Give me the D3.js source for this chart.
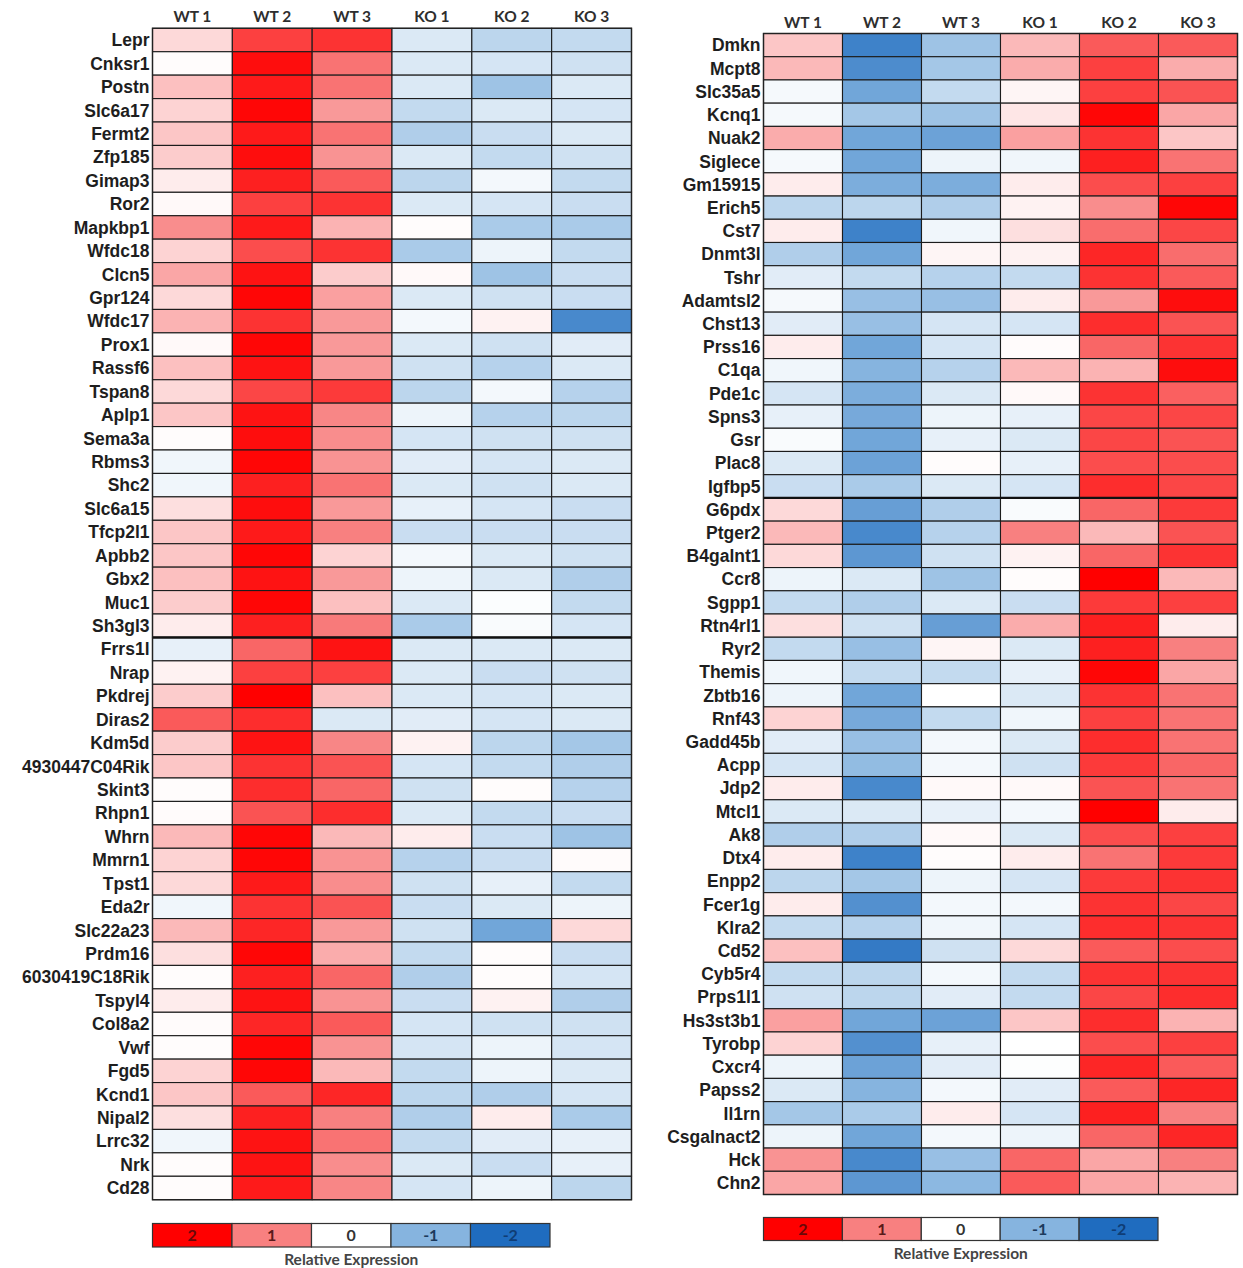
<!DOCTYPE html>
<html>
<head>
<meta charset="utf-8">
<script src="https://cdn.jsdelivr.net/npm/d3@7"></script>
<style>
  html, body { margin: 0; padding: 0; background: #fff; }
  svg { display: block; }
</style>
</head>
<body>
<svg id="chart" width="1243" height="1268"></svg>
<script>
// Sample columns shared by both heatmaps
const samples = ["WT 1", "WT 2", "WT 3", "KO 1", "KO 2", "KO 3"];

// Legend ticks
const legendTicks = [2, 1, 0, -1, -2];
const legendTitle = "Relative Expression";

// Left heatmap: genes up in WT
const leftGenes = ["Lepr","Cnksr1","Postn","Slc6a17","Fermt2","Zfp185","Gimap3","Ror2","Mapkbp1","Wfdc18",
  "Clcn5","Gpr124","Wfdc17","Prox1","Rassf6","Tspan8","Aplp1","Sema3a","Rbms3","Shc2",
  "Slc6a15","Tfcp2l1","Apbb2","Gbx2","Muc1","Sh3gl3",
  "Frrs1l","Nrap","Pkdrej","Diras2","Kdm5d","4930447C04Rik","Skint3","Rhpn1","Whrn","Mmrn1",
  "Tpst1","Eda2r","Slc22a23","Prdm16","6030419C18Rik","Tspyl4","Col8a2","Vwf","Fgd5","Kcnd1",
  "Nipal2","Lrrc32","Nrk","Cd28"];
const leftSplitAfter = 26;
const leftValues = [
  [0.3, 1.5, 1.6, -0.3, -0.55, -0.5],
  [0.02, 1.9, 1.1, -0.3, -0.35, -0.4],
  [0.5, 1.8, 1.1, -0.3, -0.8, -0.3],
  [0.35, 1.95, 0.8, -0.5, -0.3, -0.35],
  [0.45, 1.8, 1.1, -0.65, -0.45, -0.3],
  [0.4, 1.9, 0.85, -0.3, -0.5, -0.4],
  [0.15, 1.75, 1.3, -0.55, -0.1, -0.5],
  [0.05, 1.5, 1.6, -0.3, -0.35, -0.45],
  [0.9, 1.8, 0.6, 0.02, -0.7, -0.7],
  [0.35, 1.4, 1.6, -0.7, -0.15, -0.5],
  [0.7, 1.85, 0.4, 0.05, -0.8, -0.45],
  [0.3, 1.95, 0.75, -0.3, -0.4, -0.45],
  [0.6, 1.6, 0.8, -0.1, 0.1, -1.6],
  [0.05, 1.95, 0.8, -0.3, -0.4, -0.25],
  [0.5, 1.85, 0.8, -0.4, -0.6, -0.3],
  [0.3, 1.45, 1.55, -0.55, -0.1, -0.6],
  [0.45, 1.85, 0.95, -0.15, -0.6, -0.55],
  [0.02, 1.9, 0.9, -0.35, -0.4, -0.4],
  [-0.12, 1.95, 0.85, -0.25, -0.35, -0.3],
  [-0.12, 1.75, 1.1, -0.3, -0.4, -0.3],
  [0.25, 1.9, 0.8, -0.2, -0.35, -0.45],
  [0.45, 1.8, 1.0, -0.45, -0.45, -0.45],
  [0.45, 1.95, 0.35, -0.1, -0.3, -0.4],
  [0.5, 1.85, 0.8, -0.15, -0.3, -0.65],
  [0.4, 1.95, 0.5, -0.3, -0.03, -0.5],
  [0.15, 1.75, 1.05, -0.7, -0.05, -0.35],
  [-0.2, 1.2, 1.85, -0.3, -0.3, -0.3],
  [0.1, 1.5, 1.5, -0.3, -0.45, -0.4],
  [0.4, 2.0, 0.5, -0.3, -0.35, -0.3],
  [1.3, 1.65, -0.3, -0.25, -0.35, -0.3],
  [0.4, 1.85, 0.95, 0.1, -0.55, -0.75],
  [0.45, 1.6, 1.35, -0.35, -0.5, -0.65],
  [0.02, 1.65, 1.2, -0.4, 0.02, -0.6],
  [0.03, 1.35, 1.65, -0.3, -0.5, -0.45],
  [0.55, 1.95, 0.55, 0.15, -0.45, -0.8],
  [0.35, 1.95, 0.85, -0.6, -0.45, 0.03],
  [0.3, 1.8, 0.9, -0.4, -0.2, -0.5],
  [-0.12, 1.6, 1.35, -0.45, -0.3, -0.15],
  [0.55, 1.7, 0.8, -0.4, -1.2, 0.3],
  [0.25, 1.95, 0.65, -0.5, 0.02, -0.45],
  [0.02, 1.75, 1.2, -0.65, 0.02, -0.35],
  [0.15, 1.85, 0.85, -0.45, 0.1, -0.65],
  [0.03, 1.7, 1.3, -0.35, -0.4, -0.4],
  [0.02, 1.95, 0.85, -0.35, -0.15, -0.35],
  [0.35, 1.95, 0.55, -0.5, -0.15, -0.3],
  [0.45, 1.3, 1.7, -0.55, -0.65, -0.35],
  [0.25, 1.75, 1.0, -0.65, 0.15, -0.7],
  [-0.12, 1.85, 1.1, -0.5, -0.25, -0.2],
  [0.02, 1.85, 0.9, -0.3, -0.45, -0.2],
  [0.02, 1.8, 0.95, -0.35, -0.15, -0.55]
];

// Right heatmap: genes up in KO
const rightGenes = ["Dmkn","Mcpt8","Slc35a5","Kcnq1","Nuak2","Siglece","Gm15915","Erich5","Cst7","Dnmt3l",
  "Tshr","Adamtsl2","Chst13","Prss16","C1qa","Pde1c","Spns3","Gsr","Plac8","Igfbp5",
  "G6pdx","Ptger2","B4galnt1","Ccr8","Sgpp1","Rtn4rl1","Ryr2","Themis","Zbtb16","Rnf43",
  "Gadd45b","Acpp","Jdp2","Mtcl1","Ak8","Dtx4","Enpp2","Fcer1g","Klra2","Cd52",
  "Cyb5r4","Prps1l1","Hs3st3b1","Tyrobp","Cxcr4","Papss2","Il1rn","Csgalnact2","Hck","Chn2"];
const rightSplitAfter = 20;
const rightValues = [
  [0.45, -1.7, -0.8, 0.55, 1.3, 1.3],
  [0.55, -1.55, -0.75, 0.65, 1.5, 0.65],
  [-0.08, -1.2, -0.5, 0.08, 1.5, 1.35],
  [-0.08, -0.75, -0.8, 0.2, 1.95, 0.7],
  [0.65, -1.2, -1.25, 0.75, 1.6, 0.45],
  [-0.08, -1.2, -0.15, -0.12, 1.75, 1.1],
  [0.15, -1.1, -1.1, 0.15, 1.4, 1.5],
  [-0.55, -0.55, -0.65, 0.1, 0.9, 1.95],
  [0.15, -1.7, -0.12, 0.25, 1.15, 1.45],
  [-0.65, -1.2, 0.08, 0.1, 1.7, 1.15],
  [-0.25, -0.5, -0.6, -0.5, 1.6, 1.3],
  [-0.08, -0.85, -0.85, 0.15, 0.8, 1.9],
  [-0.25, -0.85, -0.35, -0.35, 1.65, 1.35],
  [0.15, -1.2, -0.35, 0.03, 1.2, 1.6],
  [-0.12, -1.0, -0.6, 0.55, 0.6, 1.9],
  [-0.35, -1.1, -0.3, 0.05, 1.6, 1.25],
  [-0.2, -1.15, -0.15, -0.2, 1.45, 1.45],
  [-0.05, -1.2, -0.2, -0.3, 1.45, 1.35],
  [-0.3, -1.25, 0.02, -0.2, 1.4, 1.4],
  [-0.45, -0.7, -0.3, -0.35, 1.65, 1.45],
  [0.3, -1.3, -0.65, -0.05, 1.2, 1.55],
  [0.55, -1.6, -0.6, 1.0, 0.55, 1.35],
  [0.3, -1.4, -0.4, 0.1, 1.2, 1.6],
  [-0.15, -0.3, -0.8, 0.02, 2.0, 0.55],
  [-0.5, -0.65, -0.3, -0.45, 1.55, 1.5],
  [0.25, -0.4, -1.3, 0.65, 1.75, 0.15],
  [-0.5, -0.85, 0.08, -0.3, 1.75, 1.0],
  [-0.12, -0.5, -0.5, -0.2, 1.95, 0.7],
  [-0.15, -1.2, 0.0, -0.3, 1.6, 1.1],
  [0.35, -1.15, -0.5, -0.12, 1.5, 1.1],
  [-0.25, -0.85, -0.1, -0.3, 1.65, 1.1],
  [-0.35, -0.9, -0.1, -0.4, 1.55, 1.2],
  [0.15, -1.6, 0.05, 0.05, 1.35, 1.1],
  [-0.3, -0.3, -0.2, -0.1, 2.0, 0.15],
  [-0.65, -0.65, 0.05, -0.3, 1.4, 1.5],
  [0.15, -1.7, 0.02, 0.15, 1.1, 1.55],
  [-0.55, -0.75, -0.15, -0.35, 1.55, 1.6],
  [0.15, -1.5, -0.1, -0.1, 1.6, 1.45],
  [-0.5, -0.6, -0.12, -0.35, 1.65, 1.6],
  [0.5, -1.8, -0.4, 0.3, 1.3, 1.4],
  [-0.5, -0.55, -0.1, -0.5, 1.6, 1.6],
  [-0.4, -0.55, -0.25, -0.5, 1.45, 1.65],
  [0.75, -1.2, -1.25, 0.45, 1.65, 0.6],
  [0.35, -1.5, -0.2, 0.0, 1.4, 1.5],
  [-0.15, -1.25, -0.25, -0.02, 1.7, 1.3],
  [-0.3, -1.0, -0.1, -0.25, 1.3, 1.7],
  [-0.75, -0.7, 0.15, -0.35, 1.75, 1.0],
  [-0.15, -1.2, -0.1, -0.15, 1.2, 1.7],
  [0.85, -1.6, -0.85, 1.2, 0.7, 1.0],
  [0.7, -1.4, -0.95, 1.3, 0.7, 0.6]
];

// Diverging colour scale: red (high) - white - blue (low)
const color = d3.scaleLinear()
  .domain([-2, -1, 0, 1, 2])
  .range(["#1f6cbf", "#86b4df", "#ffffff", "#f88080", "#ff0000"])
  .clamp(true);

const svg = d3.select("#chart");
const labelFont = "'Liberation Sans', Arial, sans-serif";
const headFont = "Lato, 'Open Sans', sans-serif";

function drawHeatmap(cfg) {
  const g = svg.append("g");
  const x = d3.scaleBand().domain(samples).range([cfg.x0, cfg.x1]);
  const y = d3.scaleBand().domain(cfg.genes).range([cfg.y0, cfg.y1]);

  const cells = [];
  cfg.genes.forEach((gene, i) => {
    samples.forEach((s, j) => cells.push({ gene, sample: s, value: cfg.values[i][j] }));
  });

  g.selectAll("rect.cell").data(cells).join("rect")
    .attr("class", "cell")
    .attr("x", d => x(d.sample))
    .attr("y", d => y(d.gene))
    .attr("width", x.bandwidth())
    .attr("height", y.bandwidth())
    .attr("fill", d => color(d.value))
    .attr("stroke", "#1c1c1c")
    .attr("stroke-width", 1.1);

  // group separator
  const ySplit = y(cfg.genes[cfg.splitAfter]);
  g.append("line")
    .attr("x1", cfg.x0).attr("x2", cfg.x1)
    .attr("y1", ySplit).attr("y2", ySplit)
    .attr("stroke", "#111").attr("stroke-width", 2.4);

  // outer frame
  g.append("rect")
    .attr("x", cfg.x0).attr("y", cfg.y0)
    .attr("width", cfg.x1 - cfg.x0).attr("height", cfg.y1 - cfg.y0)
    .attr("fill", "none").attr("stroke", "#222").attr("stroke-width", 1.4);

  // column headers
  g.selectAll("text.head").data(samples).join("text")
    .attr("class", "head")
    .attr("x", d => x(d) + x.bandwidth() / 2)
    .attr("y", cfg.y0 - 6)
    .attr("text-anchor", "middle")
    .attr("font-family", headFont)
    .attr("font-weight", 700)
    .attr("font-size", 15.5)
    .attr("fill", "#2e2e2e")
    .text(d => d);

  // gene labels
  g.selectAll("text.gene").data(cfg.genes).join("text")
    .attr("class", "gene")
    .attr("x", cfg.x0 - 3)
    .attr("y", d => y(d) + y.bandwidth() / 2)
    .attr("dy", "0.36em")
    .attr("text-anchor", "end")
    .attr("font-family", labelFont)
    .attr("font-weight", 700)
    .attr("font-size", 17.5)
    .attr("fill", "#1e1e1e")
    .text(d => d);
}

function drawLegend(cfg) {
  const g = svg.append("g");
  const x = d3.scaleBand().domain(legendTicks).range([cfg.x0, cfg.x1]);
  g.selectAll("rect").data(legendTicks).join("rect")
    .attr("x", d => x(d))
    .attr("y", cfg.y0)
    .attr("width", x.bandwidth())
    .attr("height", cfg.h)
    .attr("fill", d => color(d))
    .attr("stroke", "#333")
    .attr("stroke-width", 1.2);
  g.selectAll("text.tick").data(legendTicks).join("text")
    .attr("class", "tick")
    .attr("x", d => x(d) + x.bandwidth() / 2)
    .attr("y", cfg.y0 + cfg.h / 2)
    .attr("dy", "0.36em")
    .attr("text-anchor", "middle")
    .attr("font-family", headFont)
    .attr("font-weight", 700)
    .attr("font-size", 16)
    .attr("fill", d => d === 2 ? "#6a0808" : d === -2 ? "#0f3d75" : d === 1 ? "#5a1a1a" : d === -1 ? "#1c3a5c" : "#333")
    .text(d => d);
  g.append("text")
    .attr("x", (cfg.x0 + cfg.x1) / 2)
    .attr("y", cfg.y0 + cfg.h + 18)
    .attr("text-anchor", "middle")
    .attr("font-family", headFont)
    .attr("font-weight", 700)
    .attr("font-size", 15.5)
    .attr("fill", "#444")
    .text(legendTitle);
}

drawHeatmap({ genes: leftGenes, values: leftValues, splitAfter: leftSplitAfter,
  x0: 152.5, x1: 631.5, y0: 28.3, y1: 1199.7 });
drawHeatmap({ genes: rightGenes, values: rightValues, splitAfter: rightSplitAfter,
  x0: 763.5, x1: 1237.5, y0: 33.5, y1: 1194.5 });

drawLegend({ x0: 152.5, x1: 550, y0: 1223.5, h: 23.5 });
drawLegend({ x0: 763.5, x1: 1158, y0: 1217.5, h: 23 });
</script>
</body>
</html>
